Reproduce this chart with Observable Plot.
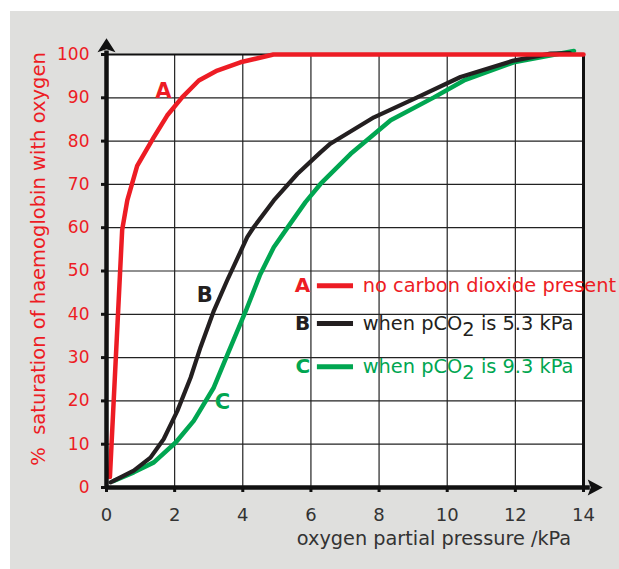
<!DOCTYPE html>
<html>
<head>
<meta charset="utf-8">
<script src="https://cdn.jsdelivr.net/npm/d3@7"></script>
<script src="https://cdn.jsdelivr.net/npm/@observablehq/plot@0.6"></script>
<style>
  html, body { margin: 0; padding: 0; background: #ffffff; }
  #wrap { padding: 11px 0 0 10px; width: 609px; }
  svg { display: block; }
</style>
</head>
<body>
<div id="wrap"></div>
<script>
// ---- data (oxygen partial pressure /kPa, % saturation) ----
const curveA_x = [0.10, 0.46, 0.61, 0.90, 1.39, 1.78, 2.22, 2.71, 3.25, 3.93, 4.90, 14.0];
const curveA_y = [2.4, 59.5, 66.3, 74.3, 80.9, 85.9, 90.1, 94.0, 96.3, 98.2, 100.0, 100.0];

const curveB_x = [0.12, 0.80, 1.29, 1.68, 2.08, 2.47, 2.76, 3.15, 3.54, 4.13, 4.32, 4.91, 5.60, 6.28, 6.57, 7.85, 9.12, 10.39, 11.95, 13.03, 13.6];
const curveB_y = [1.2, 3.9, 6.9, 11.2, 17.7, 25.4, 32.4, 40.8, 47.8, 57.8, 60.1, 66.3, 72.4, 77.4, 79.4, 85.5, 90.1, 94.8, 98.6, 100.2, 100.3];

const curveC_x = [0.21, 0.80, 1.39, 2.03, 2.56, 3.15, 3.54, 4.10, 4.50, 4.91, 5.40, 5.84, 6.28, 7.16, 8.34, 9.61, 10.49, 11.95, 13.72];
const curveC_y = [1.5, 3.5, 5.8, 10.4, 15.4, 23.1, 30.5, 41.0, 49.0, 55.5, 61.0, 65.9, 70.1, 77.0, 84.8, 90.1, 94.0, 98.2, 100.8];

const xTicks = [0, 2, 4, 6, 8, 10, 12, 14];
const yTicks = [0, 10, 20, 30, 40, 50, 60, 70, 80, 90, 100];

const curveKeys = ["A", "B", "C"];
const legendTexts = ["no carbon dioxide present", "when pCO2 is 5.3 kPa", "when pCO2 is 9.3 kPa"];
const xLabel = "oxygen partial pressure /kPa";
const yLabel = "% \u00a0saturation of haemoglobin with oxygen";

// ---- styling / layout (not data) ----
const colors = {A: "#ed1c24", B: "#231f20", C: "#00a651"};
const curveLabelPos = {A: [1.67, 91.6], B: [2.88, 44.3], C: [3.40, 19.8]};
const legendRowY = {A: 46.6, B: 37.9, C: 27.9};
const legendKeyX = 5.98, legendLineX1 = 6.19, legendLineX2 = 7.25, legendTextX = 7.52;

const toRows = (xs, ys, key) => xs.map((x, i) => ({x, y: ys[i], key}));
const dataA = toRows(curveA_x, curveA_y, "A");
const dataB = toRows(curveB_x, curveB_y, "B");
const dataC = toRows(curveC_x, curveC_y, "C");

const legendRows = curveKeys.map((k, i) => ({key: k, text: legendTexts[i], y: legendRowY[k]}));
const labelRows = curveKeys.map(k => ({key: k, x: curveLabelPos[k][0], y: curveLabelPos[k][1]}));

const arrowUp = {draw(ctx) { ctx.moveTo(0, -8); ctx.lineTo(9, 6); ctx.lineTo(0, 3); ctx.lineTo(-9, 6); ctx.closePath(); }};
const arrowRight = {draw(ctx) { ctx.moveTo(8, 0); ctx.lineTo(-7, 8); ctx.lineTo(-4, 0); ctx.lineTo(-7, -8); ctx.closePath(); }};

const chart = Plot.plot({
  width: 609,
  height: 558,
  marginLeft: 96,
  marginRight: 36,
  marginTop: 43,
  marginBottom: 82,
  style: {background: "#dfdfdd", fontFamily: "DejaVu Sans", overflow: "visible"},
  x: {domain: [0, 14]},
  y: {domain: [0, 100]},
  marks: [
    Plot.frame({fill: "white", stroke: "none"}),
    Plot.gridX({ticks: xTicks.slice(1, -1), stroke: "#222", strokeOpacity: 1, strokeWidth: 1.2}),
    Plot.gridY({ticks: yTicks.slice(1, -1), stroke: "#222", strokeOpacity: 1, strokeWidth: 1.2}),
    Plot.ruleX([14], {y1: 0, y2: 100, stroke: "#111", strokeWidth: 3}),
    Plot.ruleY([100], {x1: 0, x2: 14, stroke: "#111", strokeWidth: 2}),
    Plot.line(dataC, {x: "x", y: "y", stroke: colors.C, strokeWidth: 4.5, strokeLinejoin: "round"}),
    Plot.line(dataB, {x: "x", y: "y", stroke: colors.B, strokeWidth: 4.2, strokeLinejoin: "round"}),
    Plot.line(dataA, {x: "x", y: "y", stroke: colors.A, strokeWidth: 4.5, strokeLinejoin: "round"}),
    // axes lines with arrowheads
    Plot.ruleX([0], {y1: 0, y2: 100.8, stroke: "#111", strokeWidth: 4.5}),
    Plot.ruleY([0], {x1: 0, x2: 14.2, stroke: "#111", strokeWidth: 4.5}),
    Plot.dot([{x: 0, y: 101.9}], {x: "x", y: "y", symbol: arrowUp, fill: "#111", stroke: "none"}),
    Plot.dot([{x: 14.33, y: 0}], {x: "x", y: "y", symbol: arrowRight, fill: "#111", stroke: "none"}),
    Plot.axisX({ticks: xTicks, tickSize: 5, strokeWidth: 3, stroke: "#111", tickPadding: 16, fontSize: 18, fill: "#333", label: null}),
    Plot.axisY({ticks: yTicks, tickSize: 5, strokeWidth: 3, stroke: "#111", tickPadding: 12, fontSize: 17, fill: colors.A, label: null}),
    Plot.text([xLabel], {frameAnchor: "bottom", dx: 89, dy: 51, fontSize: 19.3, fill: "#333", lineAnchor: "middle"}),
    Plot.text([yLabel], {frameAnchor: "left", textAnchor: "middle", rotate: -90, dx: -68, dy: -12, fontSize: 19.5, fill: colors.A, lineAnchor: "middle"}),
    // curve labels
    Plot.text(labelRows, {x: "x", y: "y", text: "key", fill: d => colors[d.key], fontWeight: "bold", fontSize: 21}),
    // legend
    Plot.text(legendRows, {x: legendKeyX, y: "y", text: "key", fill: d => colors[d.key], fontWeight: "bold", fontSize: 20, textAnchor: "end"}),
    Plot.ruleY(legendRows, {x1: legendLineX1, x2: legendLineX2, y: "y", stroke: d => colors[d.key], strokeWidth: 5}),
    Plot.text(legendRows, {x: legendTextX, y: "y", text: "text", fill: d => colors[d.key], fontSize: 19.4, textAnchor: "start", className: "legend-text"})
  ]
});

// render the "2" in pCO2 as a lowered digit
d3.select(chart).selectAll("text").each(function() {
  const t = this.textContent;
  if (t.includes("pCO2")) {
    const [a, b] = t.split("pCO2");
    const sel = d3.select(this);
    sel.text(null);
    sel.append("tspan").text(a + "pCO");
    sel.append("tspan").attr("dy", "0.32em").text("2");
    sel.append("tspan").attr("dy", "-0.32em").text(b);
  }
});

document.getElementById("wrap").append(chart);
</script>
</body>
</html>
